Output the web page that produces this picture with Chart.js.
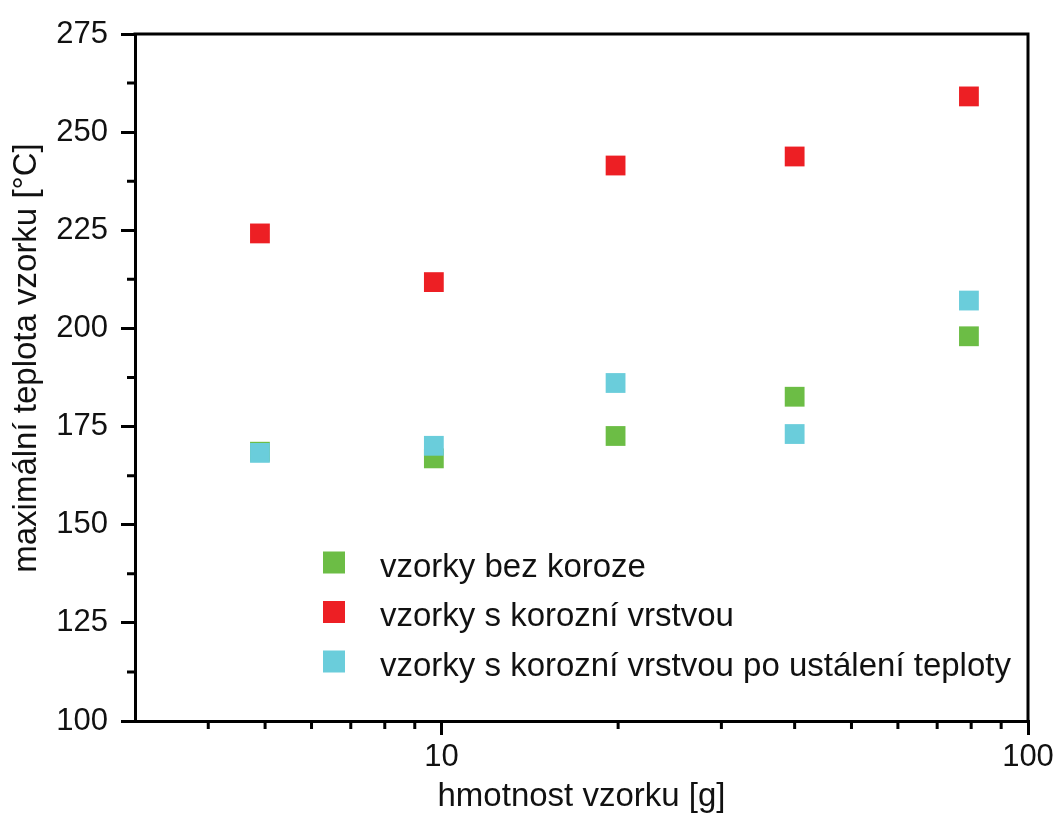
<!DOCTYPE html>
<html>
<head>
<meta charset="utf-8">
<script src="https://cdn.jsdelivr.net/npm/chart.js@4/dist/chart.umd.min.js"></script>
<style>
  body { margin: 0; background: #fff; }
  #wrap { width: 1063px; height: 817px; }
</style>
</head>
<body>
<div id="wrap"><canvas id="tchart"></canvas></div>
<script>
var hmotnost = [4.9, 9.7, 19.8, 40, 79.3];   // x, grams
var bezKoroze = [168.6, 166.9, 172.6, 182.6, 198.0];
var sKorozi = [224.2, 211.8, 241.5, 243.8, 259.1];
var poUstaleni = [168.3, 170.1, 186.1, 173.1, 207.1];

var xMajor = [10, 100];
var xMinor = [4, 5, 6, 7, 8, 9, 20, 30, 40, 50, 60, 70, 80, 90];
var yMinor = [112.5, 137.5, 162.5, 187.5, 212.5, 237.5, 262.5];

var FONT = "'Liberation Sans', Arial, Helvetica, sans-serif";

function pts(ys) {
    return hmotnost.map(function (x, i) { return { x: x, y: ys[i] }; });
}

// minor ticks, top/right frame, y title and the legend
var extras = {
    id: 'extras',
    afterDraw: function (chart) {
        var ctx = chart.ctx;
        var a = chart.chartArea;
        var sx = chart.scales.x, sy = chart.scales.y;
        ctx.save();
        ctx.strokeStyle = '#000';
        ctx.lineWidth = 3;
        ctx.beginPath();
        ctx.moveTo(a.left - 1.5, a.top);
        ctx.lineTo(a.right, a.top);
        ctx.lineTo(a.right, a.bottom);
        ctx.stroke();

        ctx.beginPath();
        xMinor.forEach(function (v) {
            var px = sx.getPixelForValue(v);
            ctx.moveTo(px, a.bottom);
            ctx.lineTo(px, a.bottom + 8);
        });
        yMinor.forEach(function (v) {
            var py = sy.getPixelForValue(v);
            ctx.moveTo(a.left, py);
            ctx.lineTo(a.left - 8, py);
        });
        ctx.stroke();

        // y axis title
        ctx.fillStyle = '#111';
        ctx.font = '33px ' + FONT;
        ctx.translate(36, 358);
        ctx.rotate(-Math.PI / 2);
        ctx.textAlign = 'center';
        ctx.textBaseline = 'alphabetic';
        ctx.fillText('maximální teplota vzorku [°C]', 0, 0);
        ctx.setTransform(1, 0, 0, 1, 0, 0);

        // legend
        ctx.font = '33px ' + FONT;
        ctx.textAlign = 'left';
        chart.data.datasets.forEach(function (ds, i) {
            var cy = 562.5 + i * 49.5;
            ctx.fillStyle = ds.backgroundColor;
            ctx.fillRect(323, cy - 11, 22, 22);
            ctx.fillStyle = '#111';
            ctx.fillText(ds.label, 380, cy + 14);
        });
        ctx.restore();
    }
};

var tchart = new Chart(document.getElementById('tchart').getContext('2d'), {
    type: 'scatter',
    data: {
        datasets: [{
            label: 'vzorky bez koroze',
            data: pts(bezKoroze),
            backgroundColor: '#6cbd45',
            order: 3
        }, {
            label: 'vzorky s korozní vrstvou',
            data: pts(sKorozi),
            backgroundColor: '#ed1f24',
            order: 2
        }, {
            label: 'vzorky s korozní vrstvou po ustálení teploty',
            data: pts(poUstaleni),
            backgroundColor: '#6acddb',
            order: 1
        }]
    },
    options: {
        responsive: true,
        maintainAspectRatio: false,
        animation: false,
        layout: { padding: { top: 34, right: 35, left: 0, bottom: 0 } },
        elements: {
            point: {
                pointStyle: 'rect',
                radius: 14,
                borderWidth: 0,
                hoverRadius: 14
            }
        },
        plugins: {
            legend: { display: false },
            tooltip: { enabled: false }
        },
        scales: {
            x: {
                type: 'logarithmic',
                min: 3,
                max: 100,
                afterBuildTicks: function (scale) {
                    scale.ticks = xMajor.map(function (v) { return { value: v }; });
                },
                afterFit: function (scale) { scale.height = 96; },
                grid: {
                    drawOnChartArea: false,
                    drawTicks: true,
                    tickLength: 14,
                    lineWidth: 3,
                    color: '#000'
                },
                border: { display: true, width: 3, color: '#000' },
                ticks: {
                    autoSkip: false,
                    maxRotation: 0,
                    padding: 4,
                    color: '#111',
                    font: { family: FONT, size: 31 },
                    callback: function (v) { return String(v); }
                },
                title: {
                    display: true,
                    text: 'hmotnost vzorku [g]',
                    color: '#111',
                    padding: 0,
                    font: { family: FONT, size: 33 }
                }
            },
            y: {
                min: 100,
                max: 275,
                afterFit: function (scale) { scale.width = 135; },
                grid: {
                    drawOnChartArea: false,
                    drawTicks: true,
                    tickLength: 14,
                    lineWidth: 3,
                    color: '#000'
                },
                border: { display: true, width: 3, color: '#000' },
                ticks: {
                    stepSize: 25,
                    padding: 13,
                    color: '#111',
                    font: { family: FONT, size: 31 }
                }
            }
        }
    },
    plugins: [extras]
});
</script>
</body>
</html>
